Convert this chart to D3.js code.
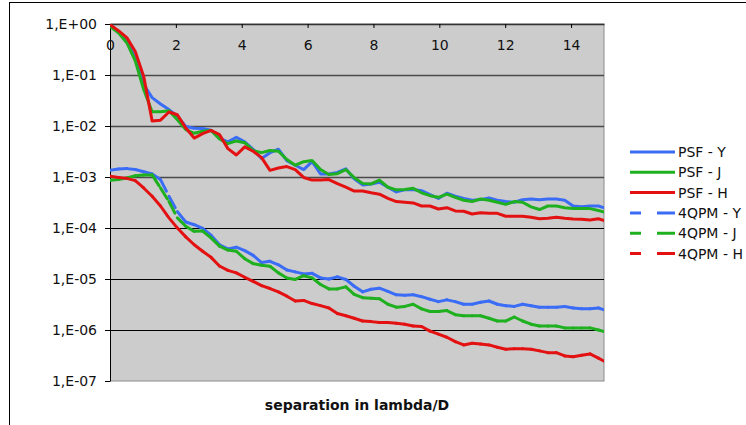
<!DOCTYPE html>
<meta charset="utf-8">
<html>
<head>
<style>
  body { margin: 0; background: #fff; }
  text { font-family: "DejaVu Sans", Verdana, sans-serif; }
</style>
<script src="https://d3js.org/d3.v7.min.js"></script>
</head>
<body>
<svg width="746" height="425"></svg>
<script>

// separation in lambda/D (sampling of the profiles)
var sepX = [0, 0.256, 0.511, 0.767, 1.023, 1.279, 1.534, 1.79, 2.046, 2.301,
            2.557, 2.813, 3.068, 3.324, 3.58, 3.836, 4.091, 4.347, 4.603, 4.858,
            5.114, 5.37, 5.625, 5.881, 6.137, 6.393, 6.648, 6.904, 7.16, 7.415,
            7.671, 7.927, 8.182, 8.438, 8.694, 8.95, 9.205, 9.461, 9.717, 9.972,
            10.228, 10.484, 10.739, 10.995, 11.251, 11.507, 11.762, 12.018, 12.274, 12.529,
            12.785, 13.041, 13.296, 13.552, 13.808, 14.064, 14.319, 14.575, 14.831, 15.086];

var psfY = [0.93, 0.70, 0.46, 0.215, 0.065, 0.036, 0.027, 0.021, 0.0155, 0.0098,
            0.009, 0.0089, 0.0083, 0.0058, 0.0049, 0.006, 0.0049, 0.0035, 0.0023, 0.0030,
            0.0035, 0.0021, 0.0017, 0.0014, 0.0020, 0.00115, 0.00115, 0.00123, 0.00145, 0.00092,
            0.0007, 0.00073, 0.00079, 0.00063, 0.00051, 0.00056, 0.00057, 0.00054, 0.00045, 0.00038,
            0.00048, 0.00042, 0.00038, 0.00035, 0.00036, 0.00039, 0.00035, 0.00033, 0.00032, 0.00036,
            0.00037, 0.00036, 0.00037, 0.00037, 0.00035, 0.00027, 0.00026, 0.00027, 0.00027, 0.00024];

var psfJ = [0.90, 0.67, 0.43, 0.19, 0.052, 0.019, 0.019, 0.020, 0.0133, 0.0085,
            0.0072, 0.0079, 0.0082, 0.0056, 0.0045, 0.0051, 0.0047, 0.0033, 0.0030, 0.0033,
            0.0032, 0.0022, 0.0017, 0.0020, 0.0021, 0.0014, 0.00112, 0.00116, 0.0014, 0.00097,
            0.00075, 0.00073, 0.00087, 0.00063, 0.00056, 0.00057, 0.0006, 0.00049, 0.00043, 0.0004,
            0.00046, 0.0004, 0.00035, 0.00033, 0.00037, 0.00035, 0.00032, 0.00029, 0.00033, 0.00032,
            0.00026, 0.00023, 0.00027, 0.00027, 0.00025, 0.00024, 0.00024, 0.00024, 0.00022, 0.0002];

var psfH = [0.97, 0.74, 0.54, 0.29, 0.094, 0.0126, 0.013, 0.0188, 0.0166, 0.0091,
            0.0058, 0.0071, 0.0082, 0.0068, 0.0036, 0.0027, 0.0039, 0.0032, 0.0024, 0.00135,
            0.0015, 0.0016, 0.00139, 0.00098, 0.00087, 0.00087, 0.00089, 0.00074, 0.00063, 0.00053,
            0.00053, 0.00049, 0.00046, 0.00038, 0.00033, 0.00032, 0.00031, 0.00027, 0.00027, 0.000236,
            0.00025, 0.000216, 0.000213, 0.000188, 0.0002, 0.000194, 0.000194, 0.00017, 0.00017, 0.00017,
            0.000163, 0.000152, 0.000155, 0.000163, 0.000155, 0.00015, 0.000148, 0.000144, 0.000152, 0.000135];

var qpmY = [1.35e-3, 1.44e-3, 1.46e-3, 1.4e-3, 1.27e-3, 1.15e-3, 8.9e-4, 4.2e-4, 2.1e-4, 1.31e-4,
            1.16e-4, 9.8e-5, 7.2e-5, 4.7e-5, 3.9e-5, 4.2e-5, 3.6e-5, 2.9e-5, 2.1e-5, 2.22e-5,
            1.9e-5, 1.5e-5, 1.38e-5, 1.26e-5, 1.29e-5, 1.05e-5, 1.0e-5, 1.1e-5, 9.8e-6, 7.2e-6,
            5.6e-6, 6.3e-6, 6.6e-6, 5.7e-6, 4.9e-6, 4.8e-6, 4.9e-6, 4.5e-6, 4.0e-6, 3.6e-6,
            3.9e-6, 3.6e-6, 3.2e-6, 3.2e-6, 3.5e-6, 3.7e-6, 3.2e-6, 3.0e-6, 2.9e-6, 3.2e-6,
            3.0e-6, 2.8e-6, 2.8e-6, 2.8e-6, 2.9e-6, 2.7e-6, 2.6e-6, 2.6e-6, 2.7e-6, 2.4e-6];

var qpmJ = [8.6e-4, 8.9e-4, 9.6e-4, 1.06e-3, 1.1e-3, 1.1e-3, 6.1e-4, 3.3e-4, 1.58e-4, 1.08e-4,
            8.6e-5, 8.7e-5, 6.4e-5, 4.4e-5, 3.7e-5, 3.5e-5, 2.5e-5, 2.0e-5, 1.86e-5, 1.78e-5,
            1.32e-5, 1.05e-5, 9.8e-6, 1.16e-5, 1.05e-5, 7.8e-6, 6.4e-6, 6.4e-6, 7.0e-6, 5.0e-6,
            4.3e-6, 4.2e-6, 4.1e-6, 3.2e-6, 2.8e-6, 2.9e-6, 3.2e-6, 2.6e-6, 2.3e-6, 2.3e-6,
            2.4e-6, 2.0e-6, 1.9e-6, 1.9e-6, 1.9e-6, 1.7e-6, 1.5e-6, 1.5e-6, 1.8e-6, 1.5e-6,
            1.3e-6, 1.2e-6, 1.2e-6, 1.2e-6, 1.1e-6, 1.1e-6, 1.1e-6, 1.1e-6, 1.0e-6, 9e-7];

var qpmH = [1.03e-3, 9.8e-4, 9.4e-4, 8.5e-4, 6.1e-4, 4.2e-4, 2.7e-4, 1.58e-4, 1.0e-4, 6.7e-5,
            4.7e-5, 3.5e-5, 2.66e-5, 1.8e-5, 1.48e-5, 1.32e-5, 1.08e-5, 9.0e-6, 7.4e-6, 6.5e-6,
            5.6e-6, 4.6e-6, 3.7e-6, 3.8e-6, 3.3e-6, 3.0e-6, 2.7e-6, 2.1e-6, 1.9e-6, 1.7e-6,
            1.5e-6, 1.46e-6, 1.4e-6, 1.4e-6, 1.35e-6, 1.3e-6, 1.2e-6, 1.17e-6, 9.5e-7, 8.3e-7,
            7.2e-7, 5.9e-7, 5.1e-7, 5.5e-7, 5.3e-7, 5.1e-7, 4.6e-7, 4.2e-7, 4.3e-7, 4.3e-7,
            4.2e-7, 3.9e-7, 3.6e-7, 3.6e-7, 3.1e-7, 3.0e-7, 3.2e-7, 3.4e-7, 2.8e-7, 2.3e-7];

var seriesNames = ["PSF - Y", "PSF - J", "PSF - H", "4QPM - Y", "4QPM - J", "4QPM - H"];
var seriesValues = [psfY, psfJ, psfH, qpmY, qpmJ, qpmH];

var xTicks = [0, 2, 4, 6, 8, 10, 12, 14];
var yTicks = [1, 1e-1, 1e-2, 1e-3, 1e-4, 1e-5, 1e-6, 1e-7];
var yTickLabels = ["1,E+00", "1,E-01", "1,E-02", "1,E-03", "1,E-04", "1,E-05", "1,E-06", "1,E-07"];
var xTitle = "separation in lambda/D";

var colors = ["#3a6cf6", "#1fb01f", "#e31111", "#3a6cf6", "#1fb01f", "#e31111"];

var svg = d3.select("svg"),
    margin = {top: 24, left: 110},
    width = 494,
    height = 357;

// outer chart frame
svg.append("rect")
   .attr("x", 9.5).attr("y", 2.5)
   .attr("width", 800).attr("height", 500)
   .attr("fill", "#fff")
   .attr("stroke", "#000");

var g = svg.append("g").attr("transform", "translate(" + margin.left + "," + margin.top + ")");

var x = d3.scaleLinear().domain([0, 15]).range([0, width]),
    y = d3.scaleLog().domain([1e-7, 1]).range([height, 0]);

// plot area
g.append("rect")
 .attr("x", 0.5).attr("y", 0)
 .attr("width", width - 0.5).attr("height", height)
 .attr("fill", "#cccccc")
 .attr("stroke", "#8c8c8c");

g.selectAll(".grid")
 .data(yTicks.slice(1, -1))
 .enter().append("line")
 .attr("class", "grid")
 .attr("x1", 0).attr("x2", width)
 .attr("y1", function(d) { return Math.round(y(d)) + 0.5; })
 .attr("y2", function(d) { return Math.round(y(d)) + 0.5; })
 .attr("stroke", function(d) { return d >= 1e-3 ? "#4a4a4a" : "#000"; })
 .attr("stroke-width", function(d) { return d >= 1e-3 ? 1.6 : 1; });

// y axis (left)
var yAxis = g.append("g")
  .call(d3.axisLeft(y).tickValues(yTicks)
        .tickFormat(function(d, i) { return yTickLabels[i]; })
        .tickSize(5).tickSizeOuter(0).tickPadding(8));
yAxis.selectAll("text").attr("font-size", "14px").attr("fill", "#111").style("font-family", "'DejaVu Sans', Verdana, sans-serif");
yAxis.selectAll("line").attr("stroke", "#000");
yAxis.select(".domain").attr("stroke", "#000");

// x axis sits on the 1,E+00 line, labels inside the plot
var xAxis = g.append("g")
  .call(d3.axisBottom(x).tickValues(xTicks)
        .tickSize(4).tickSizeOuter(0).tickPadding(12));
xAxis.selectAll("text").attr("font-size", "14px").attr("fill", "#111").style("font-family", "'DejaVu Sans', Verdana, sans-serif");
xAxis.selectAll("line").attr("stroke", "#000");
xAxis.select(".domain").attr("stroke", "#333").attr("stroke-width", 1.6);

svg.append("clipPath").attr("id", "plotclip")
   .append("rect").attr("width", width).attr("height", height);

var lines = g.append("g").attr("clip-path", "url(#plotclip)");

var line = d3.line()
    .x(function(d, i) { return x(sepX[i]); })
    .y(function(d) { return y(d); });

seriesValues.forEach(function(vals, k) {
  if (k < 3) {
    lines.append("path")
         .datum(vals)
         .attr("d", line)
         .attr("fill", "none")
         .attr("stroke", colors[k])
         .attr("stroke-width", 3)
         .attr("stroke-linejoin", "round");
  } else {
    // excel restarts the long dash on every segment
    var pts = vals.map(function(v, i) { return [x(sepX[i]), y(v)]; });
    lines.append("g").selectAll("line")
         .data(d3.pairs(pts))
         .enter().append("line")
         .attr("x1", function(d) { return d[0][0]; })
         .attr("y1", function(d) { return d[0][1]; })
         .attr("x2", function(d) { return d[1][0]; })
         .attr("y2", function(d) { return d[1][1]; })
         .attr("stroke", colors[k])
         .attr("stroke-width", 3)
         .attr("stroke-linecap", "round")
         .attr("stroke-dasharray", "13,7");
  }
});

// axis title
svg.append("text")
   .attr("x", 357).attr("y", 410)
   .attr("text-anchor", "middle")
   .attr("font-size", "14px")
   .attr("font-weight", "bold")
   .attr("fill", "#111")
   .text(xTitle);

// legend
var legend = svg.selectAll(".legend")
   .data(seriesNames)
   .enter().append("g")
   .attr("class", "legend")
   .attr("transform", function(d, i) { return "translate(630," + (152 + i * 20.3) + ")"; });

legend.append("line")
   .attr("x1", 0).attr("x2", 45)
   .attr("stroke", function(d, i) { return colors[i]; })
   .attr("stroke-width", 3)
   .attr("stroke-dasharray", function(d, i) { return i < 3 ? null : "11,16,18"; });

legend.append("text")
   .attr("x", 48).attr("dy", "0.36em")
   .attr("font-size", "14px")
   .attr("fill", "#111")
   .text(function(d) { return d; });

</script>
</body>
</html>
